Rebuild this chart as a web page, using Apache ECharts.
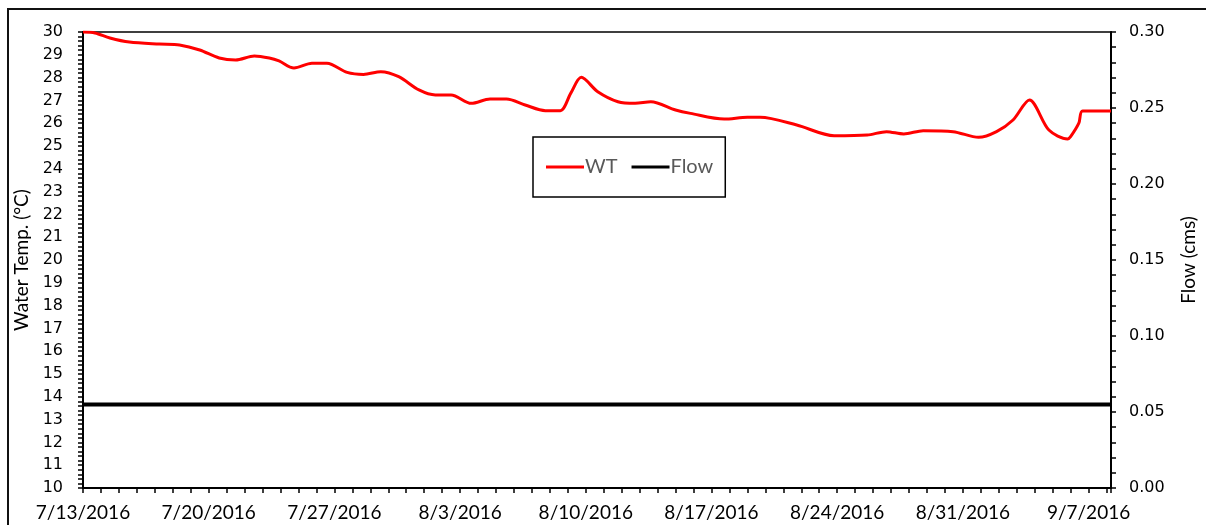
<!DOCTYPE html>
<head>
    <meta charset="utf-8"/>
    <style>
        html,body { height:100%; width:100%; margin:0; padding:0; background:#fff; }
    </style>
</head>
<body>

<div id="chart" style="width:1206px;height:525px;"></div>

<script src="https://cdn.jsdelivr.net/npm/echarts@6/dist/echarts.min.js"></script>
<script type="text/javascript">

// water temperature readings
var wtTimes = [
    '2016-07-13 00:00', '2016-07-13 16:00', '2016-07-14 12:00', '2016-07-15 14:00',
    '2016-07-17 06:00', '2016-07-18 09:00', '2016-07-19 12:00', '2016-07-20 14:00',
    '2016-07-21 12:00', '2016-07-22 13:00', '2016-07-23 09:00', '2016-07-23 22:00',
    '2016-07-24 18:00', '2016-07-25 18:00', '2016-07-26 14:00', '2016-07-27 17:00',
    '2016-07-28 15:00', '2016-07-29 14:00', '2016-07-30 14:00', '2016-07-31 17:00',
    '2016-08-01 15:00', '2016-08-02 12:00', '2016-08-03 15:00', '2016-08-04 16:00',
    '2016-08-05 14:00', '2016-08-06 15:00', '2016-08-07 18:00', '2016-08-08 14:00',
    '2016-08-09 04:00', '2016-08-09 18:00', '2016-08-10 16:00', '2016-08-11 19:00',
    '2016-08-12 18:00', '2016-08-13 15:00', '2016-08-15 00:00', '2016-08-15 20:00',
    '2016-08-17 17:00', '2016-08-19 00:00', '2016-08-19 17:00', '2016-08-21 18:00',
    '2016-08-23 20:00', '2016-08-25 16:00', '2016-08-26 18:00', '2016-08-27 17:00',
    '2016-08-28 19:00', '2016-08-30 11:00', '2016-08-31 21:00', '2016-09-01 21:00',
    '2016-09-02 19:00', '2016-09-03 17:00', '2016-09-04 19:00', '2016-09-05 20:00',
    '2016-09-06 00:00', '2016-09-06 11:00', '2016-09-06 16:00', '2016-09-08 06:00'
];
var wtValues = [
    30.00, 29.96, 29.74, 29.56,
    29.47, 29.43, 29.21, 28.86,
    28.77, 28.95, 28.86, 28.73,
    28.42, 28.63, 28.63, 28.23,
    28.14, 28.26, 28.04, 27.46,
    27.24, 27.24, 26.87, 27.06,
    27.06, 26.80, 26.55, 26.55,
    27.32, 28.01, 27.38, 26.94,
    26.87, 26.94, 26.58, 26.43,
    26.18, 26.26, 26.26, 25.92,
    25.45, 25.48, 25.63, 25.53,
    25.67, 25.63, 25.38, 25.63,
    26.14, 27.02, 25.70, 25.31,
    25.41, 26.00, 26.54, 26.54
];

// flow (constant over the record)
var flowTimes = ['2016-07-13 00:00', '2016-09-08 06:00'];
var flowValues = [0.055, 0.055];

var startDate = '2016-07-13 00:00';
var endDate = '2016-09-08 06:00';

function parseT(s) {
    var p = s.split(/[- :]/);
    return Date.UTC(+p[0], +p[1] - 1, +p[2], +p[3], +p[4]);
}
var t0 = parseT(startDate);
function dayOf(s) { return (parseT(s) - t0) / 86400000; }

function dateLabel(v) {
    var d = new Date(t0 + Math.round(v) * 86400000);
    return (d.getUTCMonth() + 1) + '/' + d.getUTCDate() + '/' + d.getUTCFullYear();
}

var wtData = wtTimes.map(function (t, i) { return [dayOf(t), wtValues[i]]; });
var flowData = flowTimes.map(function (t, i) { return [dayOf(t), flowValues[i]]; });

var myChart = echarts.init(document.getElementById('chart'));

var option = {
    animation: false,
    graphic: [{
        type: 'rect',
        shape: { x: 8, y: 9, width: 1300, height: 700 },
        style: { fill: 'none', stroke: '#111', lineWidth: 2 },
        silent: true
    }],
    legend: {
        left: 533,
        top: 137,
        orient: 'horizontal',
        icon: 'rect',
        itemWidth: 38,
        itemHeight: 3,
        itemGap: 14,
        padding: [20, 12, 20, 13],
        borderColor: '#000',
        borderWidth: 1.5,
        backgroundColor: '#fff',
        textStyle: { color: '#595959', fontSize: 20, fontFamily: 'Lato', padding: [0, 0, 0, -4] },
        data: ['WT', 'Flow']
    },
    grid: {
        left: 83,
        right: 91,
        top: 32,
        bottom: 37,
        show: true,
        borderColor: '#000',
        borderWidth: 1.5
    },
    xAxis: {
        type: 'value',
        min: 0,
        max: dayOf(endDate),
        interval: 7,
        axisLine: { show: true, onZero: false, lineStyle: { color: '#000', width: 2 } },
        axisTick: { show: true, inside: false, length: 5, lineStyle: { color: '#000', width: 1.5 } },
        minorTick: { show: true, splitNumber: 7, length: 5, lineStyle: { color: '#000', width: 1.5 } },
        splitLine: { show: false },
        axisLabel: {
            showMaxLabel: false,
            margin: 15,
            color: '#000',
            fontSize: 19,
            fontFamily: 'Lato',
            formatter: dateLabel
        }
    },
    yAxis: [{
        type: 'value',
        min: 10,
        max: 30,
        interval: 1,
        position: 'left',
        name: 'Water Temp. (°C)',
        nameLocation: 'middle',
        nameRotate: 90,
        nameGap: 52,
        nameTextStyle: { color: '#000', fontSize: 19, fontFamily: 'Lato' },
        axisLine: { show: true, lineStyle: { color: '#000', width: 2 } },
        axisTick: { show: true, inside: false, length: 5, lineStyle: { color: '#000', width: 1.5 } },
        minorTick: { show: true, splitNumber: 5, length: 5, lineStyle: { color: '#000', width: 1.5 } },
        splitLine: { show: false },
        axisLabel: { margin: 20, color: '#000', fontSize: 16, fontFamily: 'DejaVu Sans' }
    }, {
        type: 'value',
        min: 0,
        max: 0.3,
        interval: 0.05,
        position: 'right',
        name: 'Flow (cms)',
        nameLocation: 'middle',
        nameRotate: 90,
        nameGap: 68,
        nameTextStyle: { color: '#000', fontSize: 19, fontFamily: 'Lato' },
        axisLine: { show: true, lineStyle: { color: '#000', width: 2 } },
        axisTick: { show: true, inside: false, length: 5, lineStyle: { color: '#000', width: 1.5 } },
        minorTick: { show: true, splitNumber: 5, length: 5, lineStyle: { color: '#000', width: 1.5 } },
        splitLine: { show: false },
        axisLabel: {
            margin: 18, color: '#000', fontSize: 16, fontFamily: 'DejaVu Sans',
            formatter: function (v) { return v.toFixed(2); }
        }
    }],
    series: [{
        name: 'WT',
        type: 'line',
        yAxisIndex: 0,
        data: wtData,
        smooth: 0.3,
        showSymbol: false,
        lineStyle: { color: '#ff0000', width: 3 },
        itemStyle: { color: '#ff0000' }
    }, {
        name: 'Flow',
        type: 'line',
        yAxisIndex: 1,
        data: flowData,
        showSymbol: false,
        lineStyle: { color: '#000', width: 4 },
        itemStyle: { color: '#000' }
    }]
};

myChart.setOption(option);

</script>
</body>
